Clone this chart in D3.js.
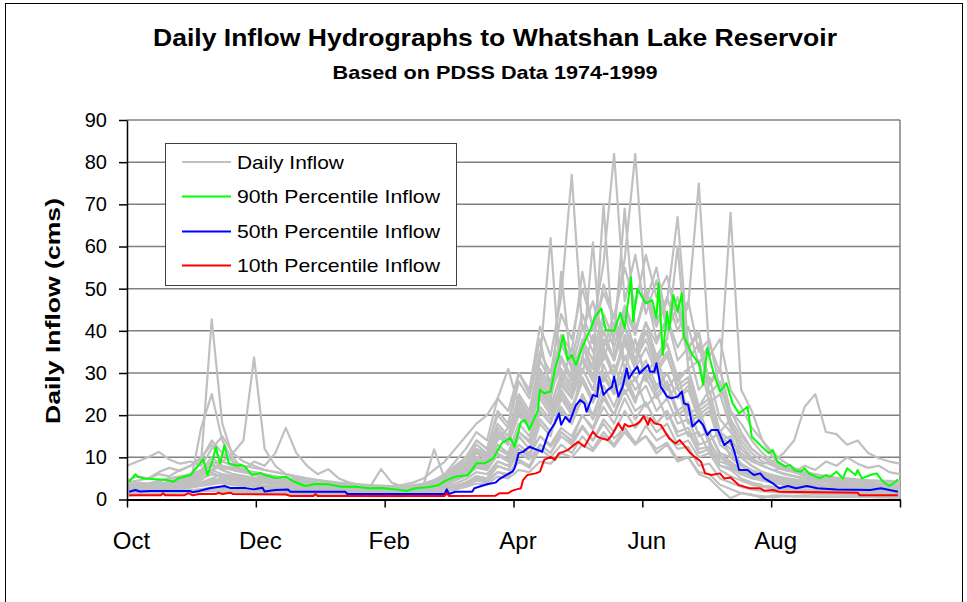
<!DOCTYPE html>
<html><head><meta charset="utf-8">
<script src="https://cdn.jsdelivr.net/npm/d3@7"></script>
<style>
body{margin:0;background:#fff;}
svg{display:block;}
text{font-family:Arial,"Liberation Sans",sans-serif;fill:#000;}
</style>
</head><body>
<svg id="chart" width="967" height="602"></svg>
<script>
// ---------- DATA ----------
const monthLabels = ["Oct","Dec","Feb","Apr","Jun","Aug",""];
const yTickValues = [0,10,20,30,40,50,60,70,80,90];
const seriesNames = ["Daily Inflow","90th Percentile Inflow","50th Percentile Inflow","10th Percentile Inflow"];
const seriesColors = ["#c0c0c0","#00ff00","#0000ff","#ff0000"];

// day of water year (0 = Oct 1) for the daily-inflow traces, every 5 days
const grayDays = d3.range(0, 366, 5);

// individual years (cms at grayDays)
const year01 = [2.5,3.0,3.5,3.0,4.5,4.0,6.0,9.0,42.7,18.0, 10.0,7.0,6.0,5.0,4.5,4.0,3.8,3.5,3.2,3.0, 2.8,2.7,2.5,2.4,2.3,2.2,2.2,2.4,2.8,3.5, 4.5,6.0,7.5,10.0,9.0,14.0,17.0,22.0,18.0,27.0, 22.0,30.0,26.0,37.0,29.0,40.0,33.0,44.0,35.0,40.0, 32.0,37.0,28.0,31.0,22.0,26.0,16.0,19.0,10.0,8.0, 6.5,5.5,5.0,4.5,4.0,3.8,3.5,3.4,3.2,3.0, 2.9,2.8,2.8,2.7];
const year02 = [4.0,4.5,5.0,6.0,5.5,7.0,8.0,10.0,13.0,9.0, 11.0,14.0,33.7,12.0,8.0,6.0,5.0,4.5,4.0,3.6, 3.4,3.2,3.0,2.9,2.8,2.7,2.8,3.0,3.5,4.5, 6.0,8.0,10.0,14.0,12.0,20.0,17.0,28.0,24.0,35.0, 30.0,44.0,38.0,50.0,41.0,56.0,82.0,47.0,58.0,44.0, 52.0,40.0,46.0,33.0,37.0,25.0,28.0,18.0,14.0,11.0, 9.0,8.0,7.0,6.5,6.0,5.5,5.0,4.8,4.5,4.2, 4.0,3.8,3.6,3.5];
const year03 = [3.0,3.5,3.2,4.0,3.8,4.5,5.0,6.0,7.0,8.0, 7.0,6.5,6.0,5.5,5.0,4.5,4.2,4.0,3.8,3.5, 3.2,3.0,2.8,2.6,2.5,2.4,2.4,2.6,3.0,4.0, 5.0,7.0,9.0,12.0,10.0,17.0,14.0,24.0,20.0,31.0, 27.0,38.0,33.0,44.0,37.0,51.0,43.0,57.0,82.0,47.0, 55.0,42.0,48.0,36.0,40.0,27.0,31.0,19.0,15.0,12.0, 10.0,8.5,7.5,6.5,6.0,5.5,5.0,4.6,4.3,4.0, 3.8,3.6,3.5,3.4];
const year04 = [2.0,2.2,2.5,2.4,2.8,3.0,3.5,4.0,5.0,6.0, 5.5,5.0,4.5,4.0,3.6,3.3,3.0,2.8,2.6,2.4, 2.2,2.1,2.0,1.9,1.9,1.8,1.8,2.0,2.5,3.5, 5.0,7.0,10.0,14.0,12.0,21.0,18.0,30.0,26.0,41.0, 34.0,48.0,77.0,40.0,47.0,36.0,44.0,33.0,38.0,28.0, 32.0,24.0,27.0,18.0,20.0,13.0,10.0,8.0,6.5,5.5, 4.5,4.0,3.5,3.2,3.0,2.8,2.6,2.5,2.4,2.3, 2.2,2.1,2.0,2.0];
const year05 = [1.5,1.8,2.0,2.2,2.0,2.5,3.0,3.5,4.0,4.5, 4.0,3.8,3.5,3.2,3.0,2.8,2.6,2.5,2.4,2.3, 2.2,2.1,2.0,2.0,1.9,1.9,2.0,2.2,2.6,3.2, 4.5,6.0,8.0,11.0,9.5,16.0,14.0,24.0,19.0,33.0, 62.0,27.0,36.0,30.0,39.0,33.0,42.0,31.0,38.0,29.0, 34.0,26.0,30.0,20.0,22.0,14.0,16.0,10.0,8.0,6.5, 5.5,5.0,4.5,4.0,3.6,3.3,3.0,2.8,2.6,2.5, 2.4,2.3,2.2,2.2];
const year06 = [2.5,2.8,3.0,3.5,3.2,4.0,4.5,5.5,7.0,6.0, 5.5,5.0,4.8,4.5,4.2,4.0,3.8,3.5,3.2,3.0, 2.8,2.6,2.5,2.4,2.3,2.2,2.1,2.0,2.0,2.2, 2.6,3.2,4.0,5.5,5.0,9.0,8.0,15.0,12.0,21.0, 18.0,28.0,24.0,34.0,29.0,38.0,33.0,45.0,39.0,50.0, 42.0,48.0,40.0,46.0,75.0,34.0,38.0,26.0,22.0,17.0, 14.0,11.0,9.0,7.5,6.5,5.5,5.0,4.5,4.2,4.0, 3.8,3.6,3.5,3.4];
const year07 = [2.0,2.2,2.5,2.8,3.0,3.2,3.5,4.0,4.5,5.0, 4.8,4.5,4.2,4.0,3.8,3.5,3.2,3.0,2.8,2.6, 2.5,2.4,2.3,2.2,2.1,2.0,2.0,2.0,2.1,2.3, 2.6,3.0,3.6,5.0,4.5,8.0,7.0,12.0,10.0,18.0, 15.0,24.0,20.0,31.0,26.0,35.0,29.0,39.0,33.0,42.0, 37.0,43.0,36.0,41.0,32.0,37.0,30.0,68.0,26.0,21.0, 14.0,10.0,8.0,6.5,5.5,5.0,4.5,4.2,4.0,3.8, 3.6,3.5,3.4,3.3];
const year08 = [3.5,4.0,3.8,4.5,5.0,5.5,6.0,7.0,8.0,7.5, 7.0,6.5,6.0,5.5,5.0,4.8,4.5,4.2,4.0,3.8, 3.6,3.4,3.2,3.0,2.9,2.8,2.8,3.0,3.4,11.9, 5.0,6.5,8.0,11.0,9.5,16.0,13.0,22.0,18.0,28.0, 24.0,34.0,29.0,38.0,33.0,42.0,36.0,46.0,40.0,48.0, 41.0,47.0,67.0,36.0,39.0,28.0,31.0,21.0,18.0,14.0, 11.0,9.0,8.0,7.0,6.5,6.0,5.5,5.2,5.0,4.8, 4.6,4.5,4.4,4.3];
const year09 = [2.0,2.5,3.0,2.8,3.5,4.0,5.0,6.5,8.0,7.0, 6.0,5.5,5.0,4.5,4.2,4.0,3.6,3.3,3.0,2.8, 2.6,2.5,2.4,2.3,2.2,2.2,2.2,2.3,2.6,3.0, 4.0,5.5,7.0,9.5,8.5,13.0,11.0,18.0,15.0,22.0, 19.0,25.0,21.0,29.0,24.0,32.0,26.0,34.0,28.0,33.0, 27.0,30.0,24.0,26.0,19.0,21.0,14.0,15.0,10.0,9.5, 8.5,9.0,11.0,14.0,22.0,25.0,16.0,15.5,13.0,14.0, 11.0,9.8,9.0,8.5];
const year10 = [1.2,1.4,1.5,1.6,1.8,2.0,2.2,2.4,2.6,2.8, 2.6,2.5,2.4,2.3,2.2,2.1,2.0,1.9,1.8,1.7, 1.6,1.5,1.5,1.4,1.4,1.3,1.3,1.4,1.6,2.0, 2.5,3.2,4.0,5.5,5.0,8.0,7.0,11.0,9.5,13.0, 11.0,15.0,13.0,17.0,14.0,19.0,16.0,21.0,17.0,20.0, 16.0,18.0,13.0,14.0,10.0,11.0,7.0,5.5,4.5,3.5, 3.0,2.6,2.3,2.1,2.0,1.9,1.8,1.7,1.6,1.6, 1.5,1.5,1.4,1.4];
const year11 = [1.0,1.2,1.3,1.5,1.4,1.6,1.8,2.0,2.2,2.0, 1.9,1.8,1.7,1.6,1.5,1.4,1.3,1.2,1.1,1.0, 1.0,0.9,0.9,0.8,0.8,0.8,0.8,0.9,1.0,1.3, 1.8,2.5,3.2,4.5,4.0,6.5,5.5,9.0,7.5,12.0, 10.0,13.0,11.0,15.0,12.0,16.0,13.0,17.0,13.5,15.0, 11.0,13.0,9.0,10.0,6.0,5.0,2.5,0.3,1.5,1.2, 0.3,1.0,0.9,0.8,0.8,0.7,0.7,0.7,0.6,0.6, 0.6,0.6,0.5,0.5];
const year12 = [2.5,3.0,2.8,3.5,4.0,3.8,4.5,5.0,6.0,5.5, 5.0,4.8,4.5,4.2,4.0,3.8,3.6,3.4,3.2,3.0, 2.9,2.8,2.8,2.9,3.0,3.2,3.5,4.0,5.0,7.0, 9.0,12.0,15.0,18.0,20.0,24.0,31.0,22.0,19.0,24.0, 20.0,26.0,22.0,28.0,23.0,29.0,25.0,30.0,24.0,27.0, 21.0,24.0,18.0,19.0,13.0,14.0,9.0,8.0,6.5,5.5, 4.8,4.2,3.8,3.5,3.3,3.1,3.0,2.9,2.8,2.7, 2.6,2.6,2.5,2.5];
const year13 = [3.0,3.2,3.8,3.5,4.2,4.8,5.5,7.0,10.0,8.0, 7.0,6.5,6.0,5.8,5.5,5.0,4.6,4.2,3.9,3.6, 3.4,3.2,3.0,2.8,2.7,2.6,2.6,2.8,3.2,4.0, 5.0,6.5,8.0,11.0,10.0,16.0,14.0,23.0,19.0,29.0, 25.0,33.0,28.0,37.0,31.0,70.0,34.0,41.0,33.0,38.0, 31.0,35.0,26.0,28.0,19.0,21.0,13.0,11.0,8.5,7.0, 6.0,5.2,4.6,4.2,3.9,3.6,3.4,3.2,3.0,2.9, 2.8,2.7,2.7,2.6];
const year14 = [2.2,2.6,3.0,3.4,3.0,3.6,4.2,5.0,6.0,5.5, 5.2,5.0,4.6,4.3,4.0,3.8,3.5,3.3,3.1,2.9, 2.7,2.6,2.5,2.4,2.3,2.3,2.3,2.5,2.9,3.6, 4.6,6.0,7.5,10.0,9.0,15.0,13.0,22.0,18.0,30.0, 26.0,37.0,31.0,41.0,35.0,44.0,38.0,69.0,40.0,49.0, 38.0,43.0,33.0,36.0,26.0,29.0,19.0,16.0,12.0,9.5, 8.0,7.0,6.2,5.6,5.0,4.6,4.3,4.0,3.8,3.6, 3.5,3.4,3.3,3.2];
const year15 = [1.8,2.0,2.3,2.6,2.5,3.0,4.0,17.0,25.0,14.0, 9.0,7.0,6.0,5.0,4.4,4.0,3.6,3.3,3.0,2.8, 2.6,2.4,2.3,2.2,2.1,2.0,2.0,2.1,2.4,3.0, 4.0,5.0,6.5,8.5,7.5,12.0,10.5,16.0,13.5,21.0, 18.0,25.0,21.0,28.0,23.0,30.0,25.0,31.0,26.0,29.0, 24.0,27.0,20.0,22.0,15.0,16.0,11.0,10.0,8.0,6.5, 5.5,4.8,4.3,3.9,3.6,3.4,3.2,3.0,2.9,2.8, 2.7,2.6,2.6,2.5];
const year16 = [2.0,2.4,2.8,3.2,3.6,4.0,5.0,6.0,7.0,9.0, 8.0,7.0,9.0,8.0,11.0,17.0,11.0,8.0,6.0,7.2, 5.0,4.0,3.5,3.2,7.2,4.0,3.0,2.8,3.0,3.5, 4.5,5.5,7.0,9.0,8.0,12.0,11.0,16.0,14.0,19.0, 16.0,22.0,18.0,24.0,19.0,25.0,20.0,26.0,21.0,23.0, 18.0,21.0,15.0,16.0,11.0,12.0,8.0,7.5,6.0,5.0, 4.5,4.2,4.0,3.8,3.6,3.4,3.3,3.2,3.1,3.0, 2.9,2.8,2.8,2.7];
const year17 = [8.0,9.0,10.0,11.3,9.5,8.5,9.0,8.0,12.0,15.0, 11.0,9.0,8.0,7.0,6.5,6.0,5.5,5.0,4.6,4.2, 3.9,3.6,3.4,3.2,3.0,2.9,2.9,3.1,3.5,4.5, 6.0,7.5,9.0,12.0,11.0,15.0,14.0,21.0,18.0,27.0, 23.0,54.0,30.0,37.0,31.0,40.0,33.0,41.0,35.0,42.0, 34.0,38.0,60.0,31.0,33.0,23.0,25.0,17.0,13.0,10.0, 8.0,7.0,6.0,5.5,5.0,4.7,4.4,4.2,4.0,3.8, 3.7,3.6,3.5,3.4];
const year18 = [1.5,1.7,2.0,2.2,2.5,2.4,2.8,3.2,3.6,4.0, 3.8,3.6,3.4,3.2,3.0,2.8,2.7,2.6,2.5,2.4, 2.3,2.2,2.1,2.0,2.0,2.0,2.1,2.3,2.8,4.0, 6.0,9.0,12.0,16.0,14.0,24.0,21.0,30.0,25.0,38.0, 26.0,31.0,27.0,33.0,61.0,28.0,32.0,25.0,29.0,22.0, 25.0,19.0,21.0,15.0,16.0,11.0,10.0,8.5,7.0,6.0, 5.2,4.6,4.2,3.9,3.7,3.5,3.3,3.2,3.1,3.0, 2.9,2.8,2.7,2.7];
const year19 = [1.3,1.5,1.4,1.7,1.6,1.9,2.1,2.4,2.8,2.5, 2.3,2.2,2.1,2.0,1.9,1.8,1.7,1.6,1.5,1.4, 1.3,1.2,1.1,1.0,1.0,0.9,0.9,1.0,1.2,1.5, 2.0,2.4,3.0,3.8,3.5,5.5,5.0,7.0,6.5,9.0, 8.5,11.0,10.0,13.0,11.5,15.0,12.5,16.0,13.0,17.5, 14.0,15.5,12.0,12.5,8.0,8.5,5.0,4.0,3.0,2.4, 2.0,1.8,1.6,1.5,1.4,1.3,1.2,1.2,1.1,1.1, 1.0,1.0,1.0,1.0];
const year20 = [1.6,2.0,1.8,2.2,2.6,2.4,3.0,3.6,4.5,3.8, 3.4,3.2,3.0,2.8,2.6,2.4,2.3,2.2,2.1,2.0, 1.9,1.8,1.7,1.7,1.6,1.6,1.6,1.7,1.9,2.4, 3.0,3.8,4.8,6.5,6.0,9.0,8.0,12.0,10.5,15.0, 13.0,17.0,15.0,20.0,16.5,22.0,18.0,24.0,19.0,23.0, 18.0,21.0,16.0,17.0,12.0,12.5,8.0,7.0,5.0,4.0, 3.4,3.0,2.7,2.5,2.4,2.3,2.2,2.1,2.0,2.0, 1.9,1.9,1.8,1.8];
const year21 = [1.0,1.1,1.2,1.4,1.3,1.5,1.7,1.9,2.1,1.8, 1.7,1.6,1.5,1.5,1.4,1.3,1.3,1.2,1.2,1.1, 1.1,1.0,1.0,0.9,0.9,0.9,1.0,1.2,1.6,2.4, 3.4,4.5,6.0,8.0,7.0,10.5,9.0,13.0,11.0,15.0, 12.5,16.0,13.5,17.5,14.0,18.0,14.5,17.0,13.0,15.0, 12.0,13.5,9.5,10.0,6.5,6.0,3.5,2.5,1.5,1.0, 0.8,0.5,0.8,0.7,0.7,0.7,0.6,0.6,0.6,0.6, 0.6,0.5,0.5,0.5];
const year22 = [2.2,2.6,2.4,3.0,3.4,3.2,3.8,4.6,6.5,5.0, 4.5,4.2,4.0,3.8,3.6,3.4,3.2,3.0,2.8,2.6, 2.5,2.4,2.3,2.2,2.1,2.1,2.1,2.2,2.5,3.0, 3.6,4.5,5.5,7.5,7.0,11.0,9.5,15.0,12.0,19.0, 16.0,21.0,18.0,25.0,20.0,27.0,22.0,29.0,23.0,31.0, 25.0,28.0,21.0,23.0,15.0,16.0,10.5,9.0,7.0,5.5, 4.6,4.0,3.6,3.3,3.1,3.0,2.9,2.8,2.7,2.6, 2.5,2.5,2.4,2.4];
const year23 = [1.8,2.2,2.0,2.5,2.8,2.6,3.2,3.8,5.0,4.2, 3.8,3.6,3.4,3.2,3.0,2.8,2.7,2.6,2.5,2.4, 2.3,2.2,2.1,2.0,2.0,1.9,1.9,1.9,2.0,2.2, 2.5,3.0,3.6,4.8,4.4,6.5,6.0,9.5,8.0,13.0, 11.0,16.0,14.0,20.0,17.0,24.0,20.0,28.0,23.0,31.0, 26.0,30.0,24.0,27.0,20.0,22.0,14.0,12.0,8.5,6.5, 5.4,4.6,4.0,3.6,3.3,3.1,3.0,2.9,2.8,2.7, 2.6,2.6,2.5,2.5];
const year24 = [2.8,3.2,3.0,3.6,4.2,4.0,4.8,6.0,8.5,7.0, 6.0,5.6,5.2,4.8,4.4,4.0,3.7,3.4,3.2,3.0, 2.8,2.7,2.6,2.5,2.4,2.4,2.4,2.6,3.0,3.8, 5.0,6.5,8.0,11.0,10.0,15.0,13.0,20.0,17.0,26.0, 22.0,29.0,25.0,33.0,28.0,36.0,30.0,38.0,32.0,40.0, 33.0,37.0,29.0,31.0,22.0,24.0,15.0,13.0,10.0,8.0, 6.5,5.8,5.2,4.8,4.5,4.2,4.0,3.8,3.6,3.5, 3.4,3.3,3.2,3.1];
const year25 = [4.5,5.5,5.0,6.5,7.5,6.8,8.0,9.5,14.0,11.0, 9.0,8.0,7.5,7.0,6.5,6.0,5.5,5.0,4.6,4.3, 4.0,3.8,3.6,3.4,3.3,3.2,3.2,3.4,3.8,4.6, 5.5,7.0,8.5,11.5,10.5,15.0,13.5,21.0,17.0,25.0, 21.0,27.0,24.0,31.0,26.0,35.0,29.0,37.0,31.0,36.0, 30.0,34.0,27.0,29.0,21.0,23.0,16.0,14.0,11.0,9.0, 8.0,7.0,7.5,6.5,8.0,7.0,9.0,8.0,10.0,8.5, 7.5,8.0,6.5,6.0];
const year26 = [3.2,3.8,3.5,4.2,5.0,4.8,5.5,7.0,9.0,8.0, 7.5,7.0,6.5,6.0,5.5,5.0,4.6,4.2,3.9,3.6, 3.4,3.2,3.0,2.9,2.8,2.7,2.7,2.9,3.3,4.2, 5.5,7.0,9.0,13.0,11.0,18.0,15.0,25.0,21.0,33.0, 28.0,39.0,35.0,54.0,40.0,49.0,43.0,55.0,46.0,58.0, 48.0,53.0,42.0,47.0,35.0,38.0,26.0,21.0,16.0,12.0, 10.0,8.5,7.5,6.8,6.2,5.8,5.4,5.0,4.8,4.6, 4.4,4.3,4.2,4.1];
const dailyYears = [year01,year02,year03,year04,year05,year06,year07,year08,year09,year10,year11,year12,year13,
  year14,year15,year16,year17,year18,year19,year20,year21,year22,year23,year24,year25,year26];

// percentile series: [day of water year, cms]
const p90 = [[1,4.2],[4,6.0],[5,5.4],[8,5.0],[19,4.6],[22,4.2],[24,5.0],[27,5.4],[30,5.8],[32,7.0],[34,8.2],[36,9.6],[38,5.8],[40,8.6],[42,12.5],[43,10.1],[44,8.6],[46,12.9],[48,8.6],[52,8.0],[54,8.2],[56,7.6],[59,5.8],[63,6.3],[65,5.8],[70,5.1],[75,5.4],[79,4.2],[84,3.2],[89,3.7],[95,3.6],[101,3.0],[108,3.0],[114,2.65],[120,2.7],[127,2.4],[132,2.0],[136,2.65],[142,2.9],[147,3.4],[151,4.6],[155,5.4],[161,5.8],[165,8.6],[169,8.6],[173,9.8],[177,13.4],[181,14.6],[183,12.5],[186,18.4],[188,18.8],[190,16.5],[194,21.2],[195,26],[197,25.2],[200,25.6],[202,30.7],[204,34.3],[206,39],[208,33.1],[210,34.3],[212,31.9],[215,36.2],[219,40.6],[221,43.3],[224,45.3],[226,40.2],[230,40.0],[233,44.3],[235,40.6],[238,52.7],[239,42.2],[241,50],[245,46.5],[248,47.3],[250,43],[251,51.3],[253,34.3],[255,44.5],[256,40.2],[258,48.5],[260,44.5],[262,48.9],[263,38.6],[267,34.3],[270,32.3],[272,27.2],[274,35.9],[277,29.9],[280,25.6],[283,27.6],[286,22.8],[289,20.4],[293,22],[295,14.9],[299,12.9],[303,11.0],[305,11.7],[307,9.0],[311,7.8],[313,8.2],[315,7.0],[318,6.6],[320,7.4],[322,6.2],[327,5.0],[330,5.8],[332,5.4],[335,6.6],[338,5.0],[340,7.4],[344,5.8],[345,7.0],[347,5.0],[351,5.8],[354,6.2],[357,4.2],[360,3.2],[363,4.2],[364,4.8]];
const p50 = [[1,1.85],[4,2.25],[6,1.9],[11,2.0],[30,2.0],[31,1.7],[34,2.0],[39,2.65],[46,3.2],[49,2.7],[56,2.7],[60,2.4],[64,2.8],[65,1.9],[70,2.25],[76,2.4],[77,1.85],[103,1.85],[104,1.3],[150,1.3],[151,2.4],[152,1.3],[155,1.85],[163,1.85],[164,2.65],[170,3.6],[174,4.0],[176,4.9],[179,5.8],[182,6.6],[183,7.4],[185,11],[187,11.3],[190,12.5],[194,11.7],[196,11.3],[199,15.7],[202,18.1],[204,20.4],[205,17.7],[207,19.6],[209,18.4],[212,22.4],[214,23.6],[216,22.8],[217,20.8],[220,24.8],[222,24.4],[223,29.1],[225,24.8],[227,26],[229,26.7],[230,29.1],[232,24.4],[234,26.7],[236,31.1],[237,28.7],[239,30.3],[241,31.5],[242,29.9],[246,31.9],[247,30.3],[249,30.3],[250,32.3],[252,26.7],[253,26],[255,24.4],[257,24],[260,24.4],[262,25.6],[263,22.8],[265,22.4],[267,17.3],[270,18.8],[272,17.7],[274,15.3],[276,16.5],[279,16.5],[282,12.9],[285,14.1],[287,11],[289,7.0],[293,7.0],[296,5.8],[299,6.2],[301,5.0],[305,3.8],[308,2.65],[312,3.2],[316,2.65],[321,3.2],[326,2.65],[335,2.4],[351,2.25],[356,2.65],[364,1.85]];
const p10 = [[1,1.0],[16,1.0],[17,1.5],[18,1.0],[27,1.0],[29,1.5],[31,1.0],[34,1.3],[42,1.3],[43,1.6],[45,1.3],[49,1.6],[50,1.3],[75,1.2],[77,0.85],[88,0.85],[89,1.3],[90,0.85],[150,0.85],[151,1.5],[152,0.85],[174,0.9],[176,1.5],[180,1.5],[182,2.1],[184,2.4],[186,2.65],[187,4.6],[189,5.8],[193,6.2],[195,6.6],[197,9.4],[200,10.1],[202,9.4],[204,11],[206,11.3],[208,11.7],[211,12.9],[213,13.7],[216,12.5],[220,16.1],[222,14.9],[224,14.5],[227,14.1],[229,15.3],[232,18.1],[234,16.5],[235,17.9],[237,17.3],[240,17.7],[242,18.4],[244,19.8],[246,17.7],[247,19.3],[249,18.1],[252,17.7],[254,16.1],[256,14.5],[259,13.3],[261,14.1],[263,12.9],[266,11],[268,10.1],[271,9.0],[273,6.2],[276,5.8],[280,6.2],[282,5.0],[285,5.2],[289,3.4],[294,2.65],[299,2.65],[301,2.1],[305,2.25],[308,1.85],[345,1.6],[346,1.0],[364,1.0]];

// ---------- DRAW ----------
const svg = d3.select("#chart");
const plot = {left:127, right:900, top:120, bottom:499.5};

// outer frame
svg.append("rect").attr("x",5.5).attr("y",3.5).attr("width",957).attr("height",650)
  .attr("fill","#fff").attr("stroke","#000").attr("stroke-width",1);

const x = d3.scaleLinear().domain([0,365]).range([plot.left, plot.right]);
const y = d3.scaleLinear().domain([0,90]).range([plot.bottom, plot.top]);

// gridlines
svg.append("g").selectAll("line").data(yTickValues.filter(v=>v>0)).join("line")
  .attr("x1",plot.left).attr("x2",plot.right)
  .attr("y1",d=>y(d)).attr("y2",d=>y(d))
  .attr("stroke","#808080").attr("stroke-width",1.5);
svg.append("line").attr("x1",plot.right).attr("x2",plot.right).attr("y1",y(90)).attr("y2",y(0))
  .attr("stroke","#808080").attr("stroke-width",1.5);

// data lines
const line = d3.line().x(d=>x(d[0])).y(d=>y(d[1]));
const gL = svg.append("g").attr("fill","none").attr("stroke-linejoin","round");
dailyYears.forEach(vals=>{
  gL.append("path").datum(grayDays.map((d,i)=>[d, vals[i]]))
    .attr("d",line).attr("stroke",seriesColors[0]).attr("stroke-width",2.2);
});
[p90,p50,p10].forEach((s,i)=>{
  gL.append("path").datum(s).attr("d",line).attr("stroke",seriesColors[i+1]).attr("stroke-width",2);
});

// axes
const xTickVals = d3.range(7).map(k=>k*365/6);
const xAxis = svg.append("g").attr("transform",`translate(0,${plot.bottom})`)
  .call(d3.axisBottom(x).tickValues(xTickVals).tickSize(8).tickSizeOuter(0)
    .tickFormat((d,i)=>monthLabels[i]).tickPadding(24));
xAxis.select(".domain").attr("stroke","#000").attr("stroke-width",2);
xAxis.selectAll(".tick line").attr("stroke","#000").attr("stroke-width",1.5);
xAxis.selectAll(".tick text").attr("font-size","24px").attr("dx",4)
  .style("font-family","Arial, 'Liberation Sans', sans-serif");

const yAxis = svg.append("g").attr("transform",`translate(${plot.left},0)`)
  .call(d3.axisLeft(y).tickValues(yTickValues).tickSize(8).tickSizeOuter(0).tickPadding(12));
yAxis.select(".domain").attr("stroke","#000").attr("stroke-width",1.5);
yAxis.selectAll(".tick line").attr("stroke","#000").attr("stroke-width",1.5);
yAxis.selectAll(".tick text").attr("font-size","20px")
  .style("font-family","Arial, 'Liberation Sans', sans-serif");

// titles
svg.append("text").attr("x",495).attr("y",46).attr("text-anchor","middle")
  .attr("font-size","24px").attr("font-weight","bold")
  .attr("textLength",684).attr("lengthAdjust","spacingAndGlyphs")
  .text("Daily Inflow Hydrographs to Whatshan Lake Reservoir");
svg.append("text").attr("x",495).attr("y",79).attr("text-anchor","middle")
  .attr("font-size","19px").attr("font-weight","bold")
  .attr("textLength",325).attr("lengthAdjust","spacingAndGlyphs")
  .text("Based on PDSS Data 1974-1999");
svg.append("text").attr("transform","translate(60,311) rotate(-90)").attr("text-anchor","middle")
  .attr("font-size","21px").attr("font-weight","bold")
  .attr("textLength",226).attr("lengthAdjust","spacingAndGlyphs")
  .text("Daily Inflow (cms)");

// legend
const lg = svg.append("g");
lg.append("rect").attr("x",165.5).attr("y",143.5).attr("width",291).attr("height",142)
  .attr("fill","#fff").attr("stroke","#404040").attr("stroke-width",1);
const rowY = [162,196.5,231.5,265.5];
const legendLen = [107,203,203,203];
seriesNames.forEach((n,i)=>{
  lg.append("line").attr("x1",182).attr("x2",231).attr("y1",rowY[i]).attr("y2",rowY[i])
    .attr("stroke",seriesColors[i]).attr("stroke-width",2);
  lg.append("text").attr("x",237).attr("y",rowY[i]).attr("dy","0.35em")
    .attr("font-size","19px").attr("textLength",legendLen[i]).attr("lengthAdjust","spacingAndGlyphs")
    .text(n);
});
</script>
</body></html>
